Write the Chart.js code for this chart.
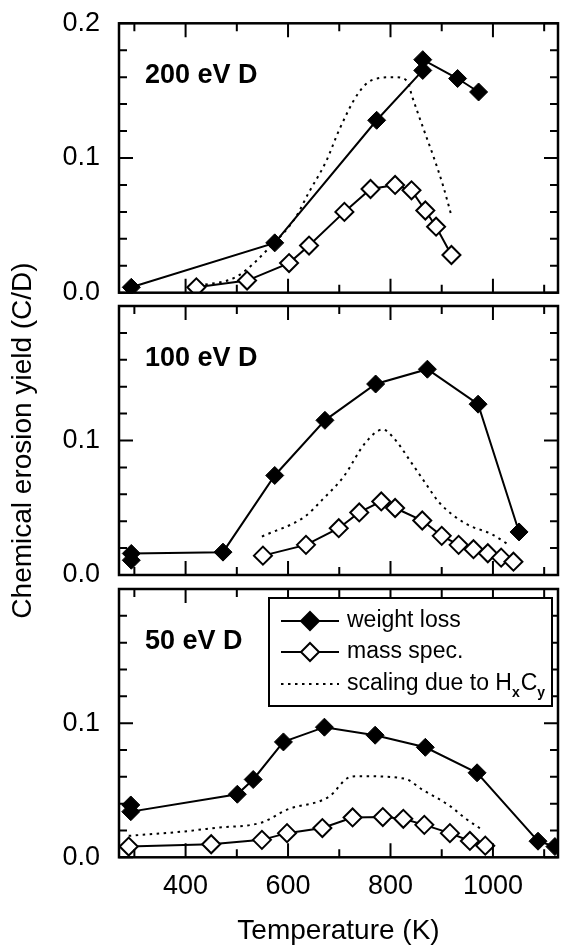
<!DOCTYPE html>
<html>
<head>
<meta charset="utf-8">
<title>Chemical erosion yield vs temperature</title>
<script src="https://cdn.jsdelivr.net/npm/chart.js@4.4.1/dist/chart.umd.min.js"></script>
<style>
html, body { margin: 0; padding: 0; background: #fff; }
#wrap { position: relative; width: 569px; height: 949px; }
#wrap canvas { position: absolute; left: 0; top: 0; }
</style>
</head>
<body>
<div id="wrap">
    <canvas id="c200" width="569" height="949"></canvas>
    <canvas id="c100" width="569" height="949"></canvas>
    <canvas id="c50" width="569" height="949"></canvas>
</div>
<script>
// ---- data (temperature in K, yield in C/D) ----
var wl200T = [294, 574, 773, 863, 863, 931, 972];
var wl200Y = [0.004, 0.037, 0.128, 0.165, 0.173, 0.159, 0.149];
var ms200T = [421, 520, 602, 641, 710, 761, 809, 841, 868, 889, 919];
var ms200Y = [0.004, 0.009, 0.022, 0.035, 0.060, 0.077, 0.080, 0.076, 0.061, 0.049, 0.028];
var sc200T = [425, 500, 565, 615, 640, 675, 700, 737, 765, 808, 833, 842, 865, 884, 903, 919];
var sc200Y = [0.005, 0.012, 0.034, 0.056, 0.074, 0.098, 0.121, 0.148, 0.158, 0.160, 0.157, 0.146, 0.121, 0.101, 0.079, 0.057];

var wl100T = [294, 294, 473, 574, 672, 771, 872, 971, 1051];
var wl100Y = [0.011, 0.016, 0.017, 0.074, 0.115, 0.142, 0.153, 0.127, 0.032];
var ms100T = [551, 635, 699, 739, 782, 809, 862, 900, 933, 962, 990, 1016, 1040];
var ms100Y = [0.0144, 0.0224, 0.0348, 0.0465, 0.0547, 0.0498, 0.0405, 0.0291, 0.0224, 0.0192, 0.0162, 0.0129, 0.0099];
var sc100T = [549, 633, 667, 709, 751, 785, 806, 841, 868, 896, 945, 1000, 1031];
var sc100Y = [0.0286, 0.0435, 0.056, 0.0734, 0.0983, 0.1082, 0.102, 0.0834, 0.0684, 0.0535, 0.0386, 0.0299, 0.0224];

var wl50T = [293, 293, 501, 532, 591, 671, 770, 868, 969, 1088, 1121];
var wl50Y = [0.039, 0.034, 0.047, 0.058, 0.086, 0.097, 0.091, 0.082, 0.063, 0.012, 0.008];
var ms50T = [289, 450, 549, 598, 667, 726, 785, 825, 866, 916, 955, 985];
var ms50Y = [0.008, 0.0097, 0.013, 0.018, 0.0218, 0.0297, 0.030, 0.0287, 0.0242, 0.018, 0.0122, 0.0087];
var sc50T = [289, 390, 459, 549, 598, 681, 716, 737, 827, 862, 917, 945, 979];
var sc50Y = [0.016, 0.019, 0.022, 0.026, 0.0355, 0.0455, 0.059, 0.0605, 0.0587, 0.0505, 0.038, 0.0293, 0.0205];

// ---- axes ----
var xMin = 270, xMax = 1127;
var xLabelTicks = [400, 600, 800, 1000];
var xMinorTicks = [300, 500, 700, 900, 1100];
var yMin = 0, yMax = 0.2;
var yMajorTicks = [0, 0.1, 0.2];
var yMinorTicks = [0.02, 0.04, 0.06, 0.08, 0.12, 0.14, 0.16, 0.18];

var legendLabels = ['weight loss', 'mass spec.', 'scaling due to H'];
var FONT = '"Liberation Sans", Arial, Helvetica, sans-serif';

Chart.defaults.font.family = FONT;
Chart.defaults.color = '#000';

function toPoints(xs, ys) {
    return xs.map(function(x, i) { return { x: x, y: ys[i] }; });
}

// frame + inward ticks on all four sides
var frameTicksPlugin = {
    id: 'frameTicks',
    afterDatasetsDraw: function(chart) {
        var ctx = chart.ctx, a = chart.chartArea;
        var xs = chart.scales.x, ys = chart.scales.y;
        ctx.save();
        ctx.strokeStyle = '#000';
        ctx.lineWidth = 2;
        ctx.beginPath();
        function tickX(v, len) {
            var px = xs.getPixelForValue(v);
            ctx.moveTo(px, a.bottom); ctx.lineTo(px, a.bottom - len);
            ctx.moveTo(px, a.top); ctx.lineTo(px, a.top + len);
        }
        function tickY(v, len) {
            var py = ys.getPixelForValue(v);
            ctx.moveTo(a.left, py); ctx.lineTo(a.left + len, py);
            ctx.moveTo(a.right, py); ctx.lineTo(a.right - len, py);
        }
        xLabelTicks.forEach(function(v) { tickX(v, 14); });
        xMinorTicks.forEach(function(v) { tickX(v, 8); });
        yMajorTicks.forEach(function(v) { tickY(v, 14); });
        yMinorTicks.forEach(function(v) { tickY(v, 8); });
        ctx.stroke();
        ctx.lineWidth = 2.5;
        ctx.strokeRect(a.left, a.top, a.right - a.left, a.bottom - a.top);
        ctx.restore();
    }
};

var panelLabelPlugin = {
    id: 'panelLabel',
    afterDraw: function(chart, args, opts) {
        if (!opts || !opts.text) return;
        var ctx = chart.ctx, a = chart.chartArea;
        ctx.save();
        ctx.fillStyle = '#000';
        ctx.font = 'bold 27px ' + FONT;
        ctx.textBaseline = 'alphabetic';
        ctx.fillText(opts.text, a.left + 26, a.top + 60);
        ctx.restore();
    }
};

var boxLegendPlugin = {
    id: 'boxLegend',
    afterDraw: function(chart, args, opts) {
        if (!opts || !opts.show) return;
        var ctx = chart.ctx;
        var bx = 269, by = 598, bw = 283, bh = 108;
        var rows = [621, 652, 684];
        ctx.save();
        ctx.fillStyle = '#fff';
        ctx.fillRect(bx, by, bw, bh);
        ctx.strokeStyle = '#000';
        ctx.lineWidth = 2;
        ctx.strokeRect(bx, by, bw, bh);

        function diamond(cx, cy, r, filled) {
            ctx.beginPath();
            ctx.moveTo(cx, cy - r); ctx.lineTo(cx + r, cy);
            ctx.lineTo(cx, cy + r); ctx.lineTo(cx - r, cy);
            ctx.closePath();
            ctx.fillStyle = filled ? '#000' : '#fff';
            ctx.fill();
            ctx.lineWidth = 2;
            ctx.stroke();
        }
        for (var i = 0; i < 3; i++) {
            ctx.beginPath();
            ctx.lineWidth = 2;
            ctx.setLineDash(i === 2 ? [2.5, 4.5] : []);
            ctx.moveTo(281, rows[i]); ctx.lineTo(339, rows[i]);
            ctx.stroke();
            ctx.setLineDash([]);
            if (i < 2) diamond(310, rows[i], 9, i === 0);
        }
        ctx.fillStyle = '#000';
        ctx.textBaseline = 'middle';
        ctx.font = '23px ' + FONT;
        ctx.fillText(legendLabels[0], 347, rows[0]);
        ctx.fillText(legendLabels[1], 347, rows[1]);
        var x = 347;
        ctx.fillText(legendLabels[2], x, rows[2]);
        x += ctx.measureText(legendLabels[2]).width;
        ctx.font = 'bold 14px ' + FONT;
        ctx.fillText('x', x, rows[2] + 9);
        x += ctx.measureText('x').width + 1;
        ctx.font = '23px ' + FONT;
        ctx.fillText('C', x, rows[2]);
        x += ctx.measureText('C').width;
        ctx.font = 'bold 14px ' + FONT;
        ctx.fillText('y', x, rows[2] + 9);
        ctx.restore();
    }
};

function noOverflow(s) {
    s.paddingTop = 0; s.paddingBottom = 0;
    s.paddingLeft = 0; s.paddingRight = 0;
}

function makePanel(id, p) {
    var datasets = [
        {
            data: toPoints(p.wlT, p.wlY),
            borderColor: '#000', borderWidth: 2,
            pointStyle: 'rectRot', pointRadius: 9,
            pointBackgroundColor: '#000', pointBorderColor: '#000', pointBorderWidth: 1,
            tension: 0, clip: 0
        },
        {
            data: toPoints(p.msT, p.msY),
            borderColor: '#000', borderWidth: 2,
            pointStyle: 'rectRot', pointRadius: 9,
            pointBackgroundColor: '#fff', pointBorderColor: '#000', pointBorderWidth: 2,
            tension: 0, clip: 0
        },
        {
            data: toPoints(p.scT, p.scY),
            borderColor: '#000', borderWidth: 2, borderDash: [2.5, 4.5],
            pointRadius: 0, cubicInterpolationMode: 'monotone', clip: 0
        }
    ];

    return new Chart(document.getElementById(id).getContext('2d'), {
        type: 'line',
        data: { datasets: datasets },
        options: {
            responsive: false, animation: false, events: [],
            layout: { padding: { left: 0, right: 2, top: p.top, bottom: p.bottom } },
            plugins: {
                legend: { display: false },
                tooltip: { enabled: false },
                panelLabel: { text: p.label },
                boxLegend: { show: !!p.legend }
            },
            scales: {
                x: {
                    type: 'linear', min: xMin, max: xMax,
                    grid: { display: false, drawTicks: false },
                    border: { display: false },
                    afterBuildTicks: function(s) { s.ticks = xLabelTicks.map(function(v) { return { value: v }; }); },
                    afterFit: function(s) { s.height = p.xHeight; noOverflow(s); },
                    ticks: {
                        display: !!p.xLabels, padding: 13, maxRotation: 0, font: { size: 27 }, color: '#000',
                        callback: function(v) { return String(v); }
                    },
                    title: { display: !!p.xLabels, text: 'Temperature (K)', font: { size: 28 }, color: '#000', padding: { top: 0, bottom: 1 } }
                },
                y: {
                    type: 'linear', min: yMin, max: yMax,
                    grid: { display: false, drawTicks: false },
                    border: { display: false },
                    afterBuildTicks: function(s) {
                        s.ticks = yMajorTicks.filter(function(v) { return v <= p.yTop; }).map(function(v) { return { value: v }; });
                    },
                    afterFit: function(s) { s.width = 119; noOverflow(s); },
                    ticks: {
                        padding: 19, font: { size: 27 }, color: '#000',
                        callback: function(v) { return Number(v).toFixed(1); }
                    },
                    title: { display: !!p.yTitle, text: 'Chemical erosion yield (C/D)', font: { size: 28 }, color: '#000', padding: { top: 6, bottom: 0 } }
                }
            }
        },
        plugins: [frameTicksPlugin, panelLabelPlugin, boxLegendPlugin]
    });
}

makePanel('c200', {
    wlT: wl200T, wlY: wl200Y, msT: ms200T, msY: ms200Y, scT: sc200T, scY: sc200Y,
    top: 23.3, bottom: 656.3, xHeight: 0, yTop: 0.2, label: '200 eV D'
});
makePanel('c100', {
    wlT: wl100T, wlY: wl100Y, msT: ms100T, msY: ms100Y, scT: sc100T, scY: sc100Y,
    top: 306, bottom: 374, xHeight: 0, yTop: 0.1, label: '100 eV D', yTitle: true
});
makePanel('c50', {
    wlT: wl50T, wlY: wl50Y, msT: ms50T, msY: ms50Y, scT: sc50T, scY: sc50Y,
    top: 589, bottom: 0, xHeight: 91.7, yTop: 0.1, label: '50 eV D', xLabels: true, legend: true
});
</script>
</body>
</html>
